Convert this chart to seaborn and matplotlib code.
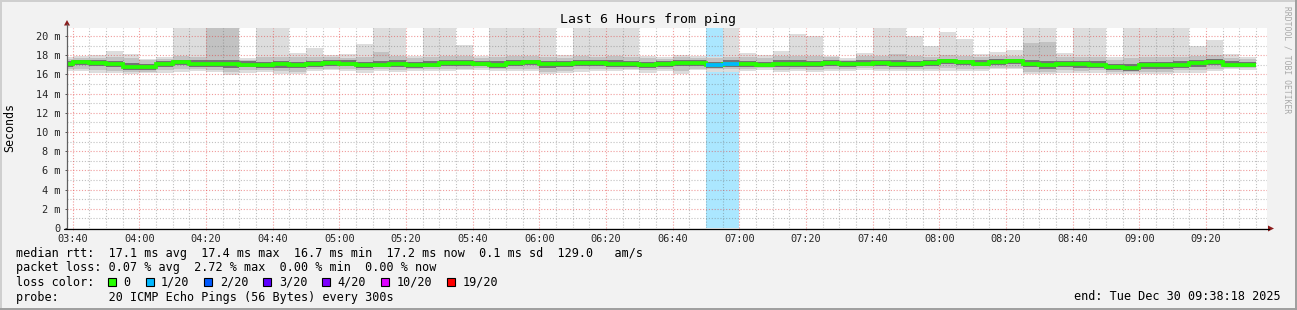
import numpy as np
import pandas as pd
import matplotlib
matplotlib.use("Agg")
import matplotlib.pyplot as plt
import seaborn as sns
from matplotlib.patches import Rectangle, Polygon
from matplotlib.lines import Line2D

# ---------------- data ----------------
bar_start = "03:35"          # first 5-minute interval start
step_minutes = 5
view_start = "03:38:18"
view_end = "09:38:18"

median_rtt = [
    17.09, 17.26, 17.16, 17.09, 16.82, 16.72, 17.09, 17.26, 17.13, 17.09, 17.09, 17.03,
    16.99, 17.06, 16.99, 17.06, 17.20, 17.13, 16.96, 17.03, 17.13, 16.99, 17.03, 17.16,
    17.23, 17.09, 16.99, 17.20, 17.26, 17.06, 17.06, 17.23, 17.16, 17.13, 17.09, 16.99,
    17.06, 17.23, 17.16, 16.99, 17.13, 17.09, 16.99, 17.09, 17.13, 17.09, 17.23, 17.09,
    17.13, 17.23, 17.09, 17.06, 17.23, 17.37, 17.26, 17.13, 17.29, 17.36, 17.11, 16.94,
    17.08, 17.08, 17.01, 16.77, 16.70, 16.97, 16.97, 17.01, 17.15, 17.29, 17.01, 17.01]

smoke_min = [
    16.34, 16.34, 16.17, 16.10, 16.00, 16.10, 16.17, 16.27, 16.34, 16.27, 15.93, 16.17,
    16.27, 16.05, 16.00, 16.34, 16.41, 16.34, 16.17, 16.34, 16.27, 16.34, 16.34, 16.34,
    16.41, 16.51, 16.34, 16.34, 16.34, 16.00, 16.10, 16.27, 16.34, 16.34, 16.41, 16.17,
    16.34, 16.00, 16.41, 16.30, 16.30, 16.34, 16.51, 16.27, 16.34, 16.27, 16.34, 16.34,
    16.51, 16.34, 16.34, 16.34, 16.34, 16.34, 16.34, 16.34, 16.52, 16.52, 16.00, 16.00,
    16.18, 16.10, 16.18, 16.00, 16.00, 16.00, 16.00, 16.18, 16.18, 16.35, 16.52, 16.45]

smoke_max = [
    17.80, 17.88, 18.02, 18.39, 18.09, 17.61, 17.78, 22.00, 22.00, 22.00, 22.00, 17.71,
    22.00, 22.00, 18.28, 18.74, 18.02, 18.09, 19.21, 22.00, 22.00, 17.95, 22.00, 22.00,
    19.08, 17.91, 22.00, 22.00, 22.00, 22.00, 18.05, 22.00, 22.00, 22.00, 22.00, 17.95,
    17.78, 18.05, 17.95, 17.86, 22.00, 18.19, 17.98, 18.46, 20.24, 19.97, 17.95, 17.71,
    18.19, 22.00, 22.00, 19.97, 19.01, 20.44, 19.66, 18.10, 18.33, 18.50, 22.00, 22.00,
    18.26, 22.00, 22.00, 17.80, 22.00, 22.00, 22.00, 22.00, 18.96, 19.55, 18.09, 17.81]

smoke_lo2 = [
    16.55, 16.55, 16.45, 16.40, 16.25, 16.30, 16.45, 16.55, 16.55, 16.50, 16.25, 16.45,
    16.50, 16.35, 16.30, 16.55, 16.60, 16.55, 16.45, 16.55, 16.50, 16.55, 16.55, 16.55,
    16.60, 16.70, 16.55, 16.60, 16.60, 16.30, 16.40, 16.55, 16.55, 16.55, 16.60, 16.45,
    16.55, 16.35, 16.60, 16.55, 16.55, 16.55, 16.70, 16.50, 16.55, 16.50, 16.60, 16.55,
    16.70, 16.60, 16.55, 16.55, 16.60, 16.65, 16.60, 16.55, 16.70, 16.70, 16.30, 16.25,
    16.45, 16.40, 16.45, 16.25, 16.25, 16.30, 16.30, 16.45, 16.45, 16.60, 16.70, 16.65]

smoke_hi2 = [
    17.65, 17.70, 17.75, 17.85, 17.75, 17.45, 17.65, 17.90, 17.85, 22.00, 22.00, 17.55,
    17.85, 17.85, 17.80, 17.80, 17.80, 17.75, 17.85, 18.30, 17.90, 17.75, 17.85, 17.90,
    17.95, 17.75, 17.85, 17.95, 17.95, 17.85, 17.75, 17.95, 17.85, 17.90, 17.85, 17.70,
    17.65, 17.85, 17.75, 17.70, 17.85, 17.85, 17.75, 17.95, 17.95, 17.90, 17.85, 17.55,
    17.90, 17.95, 18.10, 17.95, 17.85, 18.00, 17.95, 17.85, 17.95, 17.95, 19.30, 19.40,
    17.80, 17.85, 17.80, 17.55, 17.70, 17.80, 17.80, 17.85, 17.95, 18.05, 17.75, 17.65]

smoke_lo3 = [
    16.80, 16.95, 16.85, 16.75, 16.50, 16.45, 16.80, 16.95, 16.80, 16.75, 16.70, 16.75,
    16.70, 16.70, 16.65, 16.80, 16.90, 16.85, 16.65, 16.75, 16.80, 16.70, 16.75, 16.85,
    16.90, 16.85, 16.70, 16.90, 16.95, 16.70, 16.75, 16.90, 16.85, 16.80, 16.80, 16.70,
    16.75, 16.85, 16.85, 16.70, 16.80, 16.80, 16.75, 16.80, 16.80, 16.75, 16.90, 16.80,
    16.85, 16.90, 16.80, 16.75, 16.90, 17.05, 16.95, 16.85, 17.00, 17.05, 16.75, 16.60,
    16.75, 16.70, 16.70, 16.45, 16.40, 16.60, 16.60, 16.70, 16.80, 17.00, 16.75, 16.75]

smoke_hi3 = [
    17.40, 17.55, 17.45, 17.40, 17.15, 17.05, 17.40, 17.55, 17.45, 17.45, 17.45, 17.35,
    17.30, 17.40, 17.30, 17.35, 17.50, 17.45, 17.30, 17.40, 17.45, 17.30, 17.35, 17.50,
    17.55, 17.40, 17.35, 17.55, 17.55, 17.40, 17.40, 17.55, 17.50, 17.45, 17.40, 17.30,
    17.35, 17.55, 17.45, 17.30, 17.45, 17.40, 17.30, 17.45, 17.45, 17.40, 17.55, 17.35,
    17.45, 17.55, 17.45, 17.40, 17.55, 17.65, 17.55, 17.45, 17.60, 17.65, 17.50, 17.35,
    17.40, 17.40, 17.35, 17.10, 17.05, 17.30, 17.30, 17.35, 17.50, 17.60, 17.35, 17.30]

loss_count = [
    0, 0, 0, 0, 0, 0, 0, 0, 0, 0, 0, 0,
    0, 0, 0, 0, 0, 0, 0, 0, 0, 0, 0, 0,
    0, 0, 0, 0, 0, 0, 0, 0, 0, 0, 0, 0,
    0, 0, 0, 1, 1, 0, 0, 0, 0, 0, 0, 0,
    0, 0, 0, 0, 0, 0, 0, 0, 0, 0, 0, 0,
    0, 0, 0, 0, 0, 0, 0, 0, 0, 0, 0, 0]

loss_levels = [0, 1, 2, 3, 4, 10, 19]
loss_level_labels = ["0", "1/20", "2/20", "3/20", "4/20", "10/20", "19/20"]
loss_colors = ["#26ff00", "#00b8ff", "#0059ff", "#5e00ff", "#7e00ff", "#dd00ff", "#ff0000"]

x_tick_labels = ["03:40", "04:00", "04:20", "04:40", "05:00", "05:20", "05:40",
                 "06:00", "06:20", "06:40", "07:00", "07:20", "07:40", "08:00",
                 "08:20", "08:40", "09:00", "09:20"]
y_tick_values = [0, 2, 4, 6, 8, 10, 12, 14, 16, 18, 20]
y_tick_labels = ["0", "2 m", "4 m", "6 m", "8 m", "10 m", "12 m", "14 m", "16 m",
                 "18 m", "20 m"]

title = "Last 6 Hours from ping"
y_label = "Seconds"
legend_rtt = "median rtt:  17.1 ms avg  17.4 ms max  16.7 ms min  17.2 ms now  0.1 ms sd  129.0   am/s"
legend_loss = "packet loss: 0.07 % avg  2.72 % max  0.00 % min  0.00 % now"
legend_color_head = "loss color:"
legend_probe = "probe:       20 ICMP Echo Pings (56 Bytes) every 300s"
legend_end = "end: Tue Dec 30 09:38:18 2025"
watermark = "RRDTOOL / TOBI OETIKER"


def to_min(s):
    parts = [float(p) for p in s.split(":")]
    return parts[0] * 60 + parts[1] + (parts[2] / 60 if len(parts) > 2 else 0)


# ---------------- style ----------------
W, H = 1297, 310
BG = "#f2f2f2"
FONT = "DejaVu Sans Mono"
sns.set_theme(style="white")
plt.rcParams["font.family"] = [FONT, "DejaVu Sans"]
plt.rcParams["text.color"] = "#000000"

fig = plt.figure(figsize=(W / 100, H / 100), dpi=100, facecolor=BG)


def fx(px):
    return px / W


def fy(py):
    return 1 - py / H


ax_left, ax_right, ax_bottom, ax_top = 67, 1267, 228, 28
ax = fig.add_axes([fx(ax_left), fy(ax_bottom), (ax_right - ax_left) / W,
                   (ax_bottom - ax_top) / H])
ax.set_facecolor("white")
YTOP = 200 / 9.6
ax.set_ylim(0, YTOP)
ax.set_xlim(to_min(view_start), to_min(view_end))

n = len(median_rtt)
x = to_min(bar_start) + step_minutes * np.arange(n)
xe = np.append(x, x[-1] + step_minutes)


def ext(a):
    a = np.asarray(a, dtype=float)
    return np.append(a, a[-1])


def loss_color(c):
    col = loss_colors[0]
    for lev, cc in zip(loss_levels, loss_colors):
        if c >= lev:
            col = cc
    return col


loss = np.asarray(loss_count)
mask = loss > 0

# loss background (full height)
for i in np.where(mask)[0]:
    ax.bar(x[i], YTOP, width=step_minutes, align="edge", bottom=0,
           color=loss_color(loss[i]), alpha=0.33, linewidth=0, zorder=0.5)

# smoke bands
ax.fill_between(xe, ext(smoke_min), ext(smoke_max), step="post",
                color="#dddddd", linewidth=0, zorder=1)
ax.fill_between(xe, ext(smoke_lo2), ext(smoke_hi2), step="post",
                color="#c2c2c2", linewidth=0, zorder=1.1)
ax.fill_between(xe, ext(smoke_lo3), ext(smoke_hi3), step="post",
                color="#747474", linewidth=0, zorder=1.2)

# median line
med_df = pd.DataFrame({"t": xe, "median": ext(median_rtt)})
sns.lineplot(data=med_df, x="t", y="median", drawstyle="steps-post",
             color=loss_colors[0], linewidth=2.7, estimator=None, legend=False,
             ax=ax, zorder=4, solid_capstyle="butt", solid_joinstyle="miter")
med = np.asarray(median_rtt)
for i in np.where(mask)[0]:
    ax.hlines(med[i], x[i], x[i] + step_minutes, color=loss_color(loss[i]),
              linewidth=2.7, zorder=5, capstyle="butt")

# grid (drawn explicitly as dotted lines over the data)
x_major = [to_min(s) for s in x_tick_labels]
ax.set_xticks(x_major, x_tick_labels)
ax.set_yticks(y_tick_values, y_tick_labels)
ax.grid(False)
major_c = (0.88, 0.22, 0.22, 0.50)
minor_c = (0.42, 0.42, 0.42, 0.42)
dots = (0, (1.0, 1.6))
x_minor = np.arange(to_min("03:40"), to_min(view_end), 5.0)
y_minor = np.arange(1, 21, 1.0)
for xv in x_minor:
    if not np.any(np.isclose(xv, x_major)):
        ax.axvline(xv, color=minor_c, linewidth=0.8, linestyle=dots, zorder=3)
for yv in y_minor:
    if yv not in y_tick_values:
        ax.axhline(yv, color=minor_c, linewidth=0.8, linestyle=dots, zorder=3)
for xv in x_major:
    ax.axvline(xv, color=major_c, linewidth=0.8, linestyle=dots, zorder=3)
for yv in y_tick_values[1:]:
    ax.axhline(yv, color=major_c, linewidth=0.8, linestyle=dots, zorder=3)

ax.tick_params(axis="y", which="major", left=True, length=1.6, width=0.7,
               color="#555555", pad=3.4, labelsize=7.4)
ax.tick_params(axis="x", which="major", bottom=True, length=1.6, width=0.7,
               color=major_c, pad=2.5, labelsize=7.4)
ax.set_xlabel("")
ax.set_ylabel("")
for s in ax.spines.values():
    s.set_visible(False)

# axis lines + arrows
fig.add_artist(Line2D([fx(67), fx(67)], [fy(228), fy(24)], color="#606060",
                      linewidth=0.9))
fig.add_artist(Line2D([fx(64), fx(1269)], [fy(228.5), fy(228.5)], color="#000000",
                      linewidth=0.9))
arrow_c = "#8b1c1c"
fig.add_artist(Polygon([[fx(64), fy(25.5)], [fx(70), fy(25.5)], [fx(67), fy(20)]],
                       closed=True, color=arrow_c, linewidth=0))
fig.add_artist(Polygon([[fx(1268), fy(225.5)], [fx(1268), fy(231.5)], [fx(1274), fy(228.5)]],
                       closed=True, color=arrow_c, linewidth=0))

# texts
fig.text(fx(648.5), fy(19), title, ha="center", va="center", fontsize=9.5)
fig.text(fx(10), fy(127), y_label, ha="center", va="center", rotation=90,
         fontsize=8.4)
fig.text(fx(1287), fy(60), watermark, ha="center", va="center", rotation=270,
         fontsize=5.8, color="#a8a8a8")

LFS = 8.47
CW = 7.08
fig.text(fx(16), fy(254), legend_rtt, ha="left", va="center", fontsize=LFS)
fig.text(fx(16), fy(268), legend_loss, ha="left", va="center", fontsize=LFS)
fig.text(fx(16), fy(282), legend_color_head, ha="left", va="center", fontsize=LFS)
fig.text(fx(16), fy(297), legend_probe, ha="left", va="center", fontsize=LFS)
fig.text(fx(1281), fy(297), legend_end, ha="right", va="center", fontsize=LFS)

px = 108.0
for lab, col in zip(loss_level_labels, loss_colors):
    fig.add_artist(Rectangle((fx(px), fy(286)), 8 / W, 8.5 / H, facecolor=col,
                             edgecolor="#000000", linewidth=0.8))
    fig.text(fx(px + 15.5), fy(282), lab, ha="left", va="center", fontsize=LFS)
    px = px + 15.5 + len(lab) * CW + 15

# 3D frame
fig.add_artist(Line2D([0, 1], [fy(0.7), fy(0.7)], color="#cfcfcf", linewidth=1.4))
fig.add_artist(Line2D([fx(0.7), fx(0.7)], [0, 1], color="#cfcfcf", linewidth=1.4))
fig.add_artist(Line2D([0, 1], [fy(309.3), fy(309.3)], color="#9e9e9e", linewidth=1.4))
fig.add_artist(Line2D([fx(1296.3), fx(1296.3)], [0, 1], color="#9e9e9e", linewidth=1.4))

fig.savefig("out.png", dpi=100, facecolor=BG)
